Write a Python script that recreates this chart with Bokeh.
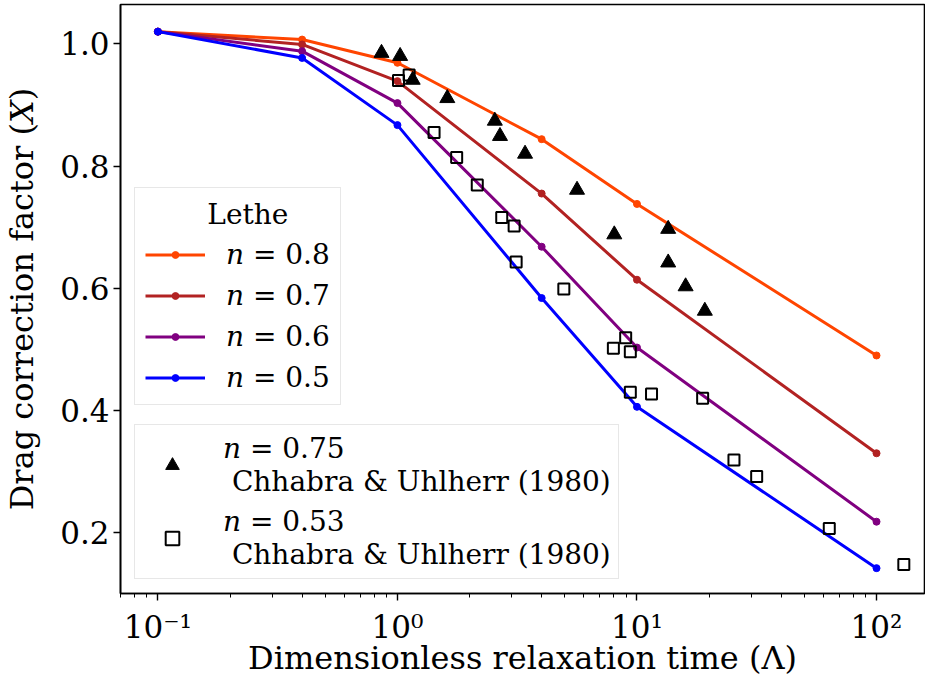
from bokeh.plotting import figure
from bokeh.models import (Legend, LegendItem, FixedTicker, PrintfTickFormatter,
                          CustomJSTickFormatter, Range1d)
from bokeh.embed import file_html
from bokeh.resources import INLINE

# ---- data ----
lam = [0.1, 0.4, 1, 4, 10, 100]
x_n08 = [1.020, 1.007, 0.969, 0.844, 0.738, 0.490]
x_n07 = [1.020, 0.999, 0.939, 0.755, 0.614, 0.330]
x_n06 = [1.020, 0.988, 0.903, 0.668, 0.503, 0.218]
x_n05 = [1.020, 0.977, 0.867, 0.584, 0.406, 0.142]

tri_lam = [0.858, 1.026, 1.158, 1.615, 2.55, 2.68, 3.41, 5.62, 8.04, 13.5, 13.5, 15.96, 19.2]
tri_x = [0.985, 0.980, 0.941, 0.911, 0.874, 0.849, 0.820, 0.761, 0.688, 0.697, 0.642, 0.603, 0.563]

sq_lam = [1.01, 1.119, 1.422, 1.767, 2.154, 2.725, 3.07, 3.13, 4.95, 7.97, 8.97, 9.38,
          9.38, 11.5, 18.8, 25.4, 31.6, 63.5, 130]
sq_x = [0.940, 0.949, 0.855, 0.814, 0.769, 0.716, 0.702, 0.643, 0.599, 0.502, 0.519, 0.496,
        0.430, 0.427, 0.420, 0.319, 0.292, 0.207, 0.148]

series_labels = ["\U0001D45B = 0.8", "\U0001D45B = 0.7", "\U0001D45B = 0.6", "\U0001D45B = 0.5"]
series_colors = ["#FF4500", "#B22222", "#800080", "#0000FF"]
exp_labels = ["\U0001D45B = 0.75\n Chhabra & Uhlherr (1980)",
              "\U0001D45B = 0.53\n Chhabra & Uhlherr (1980)"]
y_ticks = [0.2, 0.4, 0.6, 0.8, 1.0]

FONT = "DejaVu Serif"

p = figure(width=925, height=679, x_axis_type="log",
           x_range=Range1d(0.0698, 158.6), y_range=Range1d(0.1005, 1.0644),
           output_backend="svg", toolbar_location=None,
           min_border_left=119, min_border_right=1, min_border_top=4,
           min_border_bottom=84)
p.grid.visible = False
p.outline_line_color = "black"
p.outline_line_width = 1.6
p.background_fill_color = "white"
p.border_fill_color = "white"

items = []
for ys, c, lab in zip([x_n08, x_n07, x_n06, x_n05], series_colors, series_labels):
    l = p.line(lam, ys, line_color=c, line_width=3)
    s = p.scatter(lam, ys, marker="circle", size=7, fill_color=c, line_color=c)
    items.append(LegendItem(label=lab, renderers=[l, s]))

tr = p.scatter(tri_lam, tri_x, marker="triangle", size=15, fill_color="black", line_color="black")
sq = p.scatter(sq_lam, sq_x, marker="square", size=11, fill_color=None, line_color="black",
               line_width=2)

# axes
for ax in (p.xaxis[0], p.yaxis[0]):
    ax.axis_line_width = 1.6
    ax.major_tick_line_width = 1.4
    ax.major_tick_out = 7
    ax.major_tick_in = 0
    ax.major_label_text_font = FONT
    ax.major_label_text_font_size = "31px"
    ax.major_label_text_color = "black"
    ax.axis_label_text_font = FONT
    ax.axis_label_text_font_size = "32px"
    ax.axis_label_text_font_style = "normal"
    ax.axis_label_text_color = "black"

p.xaxis.minor_tick_out = 4
p.xaxis.minor_tick_in = 0
p.xaxis.minor_tick_line_width = 1.0
p.xaxis.major_label_standoff = 8
p.xaxis.axis_label_standoff = -9
p.xaxis.axis_label = "Dimensionless relaxation time (\u039B)"
p.xaxis.formatter = CustomJSTickFormatter(code="""
const sup = {'-':'\u207B','0':'\u2070','1':'\u00B9','2':'\u00B2','3':'\u00B3','4':'\u2074',
             '5':'\u2075','6':'\u2076','7':'\u2077','8':'\u2078','9':'\u2079'};
const e = Math.round(Math.log10(tick));
return '10' + String(e).split('').map(c => sup[c]).join('');
""")

p.yaxis.ticker = FixedTicker(ticks=y_ticks)
p.yaxis.formatter = PrintfTickFormatter(format="%.1f")
p.yaxis.minor_tick_line_color = None
p.yaxis.major_label_standoff = 4
p.yaxis.axis_label_standoff = 16
p.yaxis.axis_label = "Drag correction factor (\U0001D44B)"

leg1 = Legend(items=items, title="\u00a0" * 7 + "Lethe", location=(14, 188))
leg2 = Legend(items=[LegendItem(label=exp_labels[0], renderers=[tr]),
                     LegendItem(label=exp_labels[1], renderers=[sq])],
              location=(14, 14))
for lg in (leg1, leg2):
    lg.label_text_font = FONT
    lg.label_text_font_size = "28px"
    lg.label_text_color = "black"
    lg.title_text_font = FONT
    lg.title_text_font_size = "28px"
    lg.title_text_font_style = "normal"
    lg.title_text_color = "black"
    lg.title_standoff = 6
    lg.border_line_color = "#d0d0d0"
    lg.border_line_width = 1.5
    lg.background_fill_alpha = 0.8
    lg.margin = 0
    lg.glyph_width = 60
    lg.label_standoff = 21
    lg.label_height = 34
    p.add_layout(lg)

leg1.padding = 10
leg1.glyph_height = 17
leg1.spacing = 7
leg2.padding = 7
leg2.glyph_height = 34
leg2.spacing = 7

open("out.html", "w").write(file_html(p, INLINE))
